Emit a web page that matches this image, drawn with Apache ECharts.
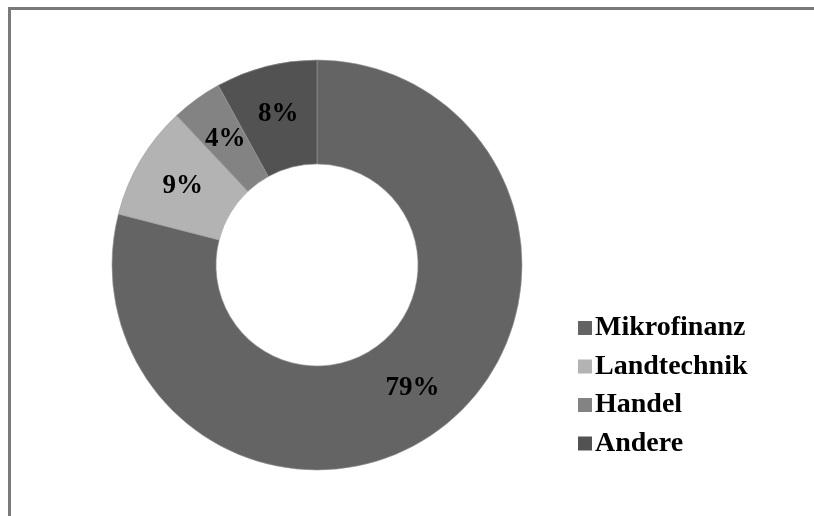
<!DOCTYPE html>
<html>
<head>
<meta charset="utf-8">
<script src="https://cdn.jsdelivr.net/npm/echarts@6/dist/echarts.min.js"></script>
<style>
html,body{margin:0;padding:0;background:#fff;}
#c{width:814px;height:516px;}
</style>
</head>
<body>
<div id="c"></div>
<script>
var categories = ['Mikrofinanz', 'Landtechnik', 'Handel', 'Andere'];
var values = [79, 9, 4, 8];
var colors = ['#646464', '#b3b3b3', '#838383', '#525252'];

var chart = echarts.init(document.getElementById('c'));
var data = categories.map(function (n, i) {
  return { name: n, value: values[i], itemStyle: { color: colors[i] } };
});
chart.setOption({
  animation: false,
  backgroundColor: '#ffffff',
  graphic: [
    { type: 'rect', shape: { x: 8, y: 7, width: 814, height: 3 }, style: { fill: '#7a7a7a' }, z: 10 },
    { type: 'rect', shape: { x: 8, y: 7, width: 3, height: 520 }, style: { fill: '#7a7a7a' }, z: 10 }
  ],
  legend: {
    orient: 'vertical',
    left: 573,
    top: 309,
    itemWidth: 14,
    itemHeight: 14,
    itemGap: 10.5,
    icon: 'rect',
    itemStyle: { borderWidth: 0 },
    textStyle: {
      fontFamily: 'Liberation Serif',
      fontWeight: 'bold',
      fontSize: 28,
      lineHeight: 28,
      color: '#000',
      padding: [0, 0, 0, -2]
    },
    data: categories
  },
  series: [{
    type: 'pie',
    center: [317, 265],
    radius: [101, 205],
    startAngle: 90,
    clockwise: true,
    itemStyle: { borderColor: '#999999', borderWidth: 0.6 },
    label: {
      show: true,
      position: 'inside',
      formatter: '{c}%',
      fontFamily: 'Liberation Serif',
      fontWeight: 'bold',
      fontSize: 27,
      color: '#000'
    },
    labelLine: { show: false },
    emphasis: { disabled: true },
    data: data
  }]
});
</script>
</body>
</html>
